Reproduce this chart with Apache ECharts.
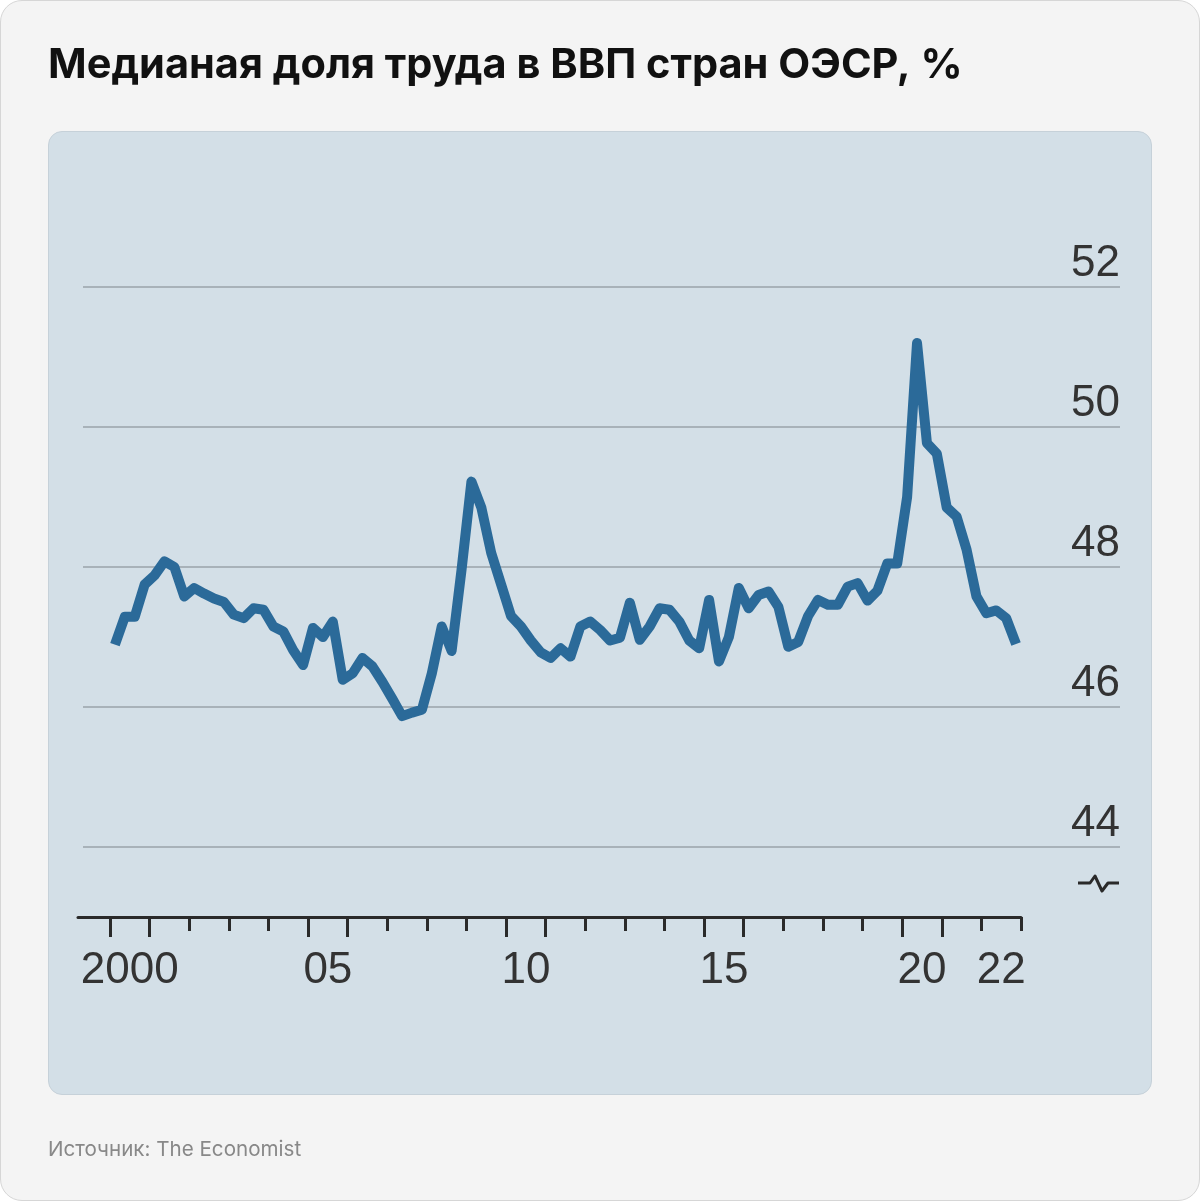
<!DOCTYPE html>
<html>
<head>
<meta charset="utf-8">
<script src="https://cdn.jsdelivr.net/npm/echarts@6/dist/echarts.min.js"></script>
<style>
  html, body { margin: 0; padding: 0; background: #ffffff; }
  #page { position: absolute; left: 0; top: 0; width: 1198px; height: 1199px; background: #f4f4f4; border: 1px solid #d6d6d6; border-radius: 22px; }
  #panel { position: absolute; left: 48px; top: 131px; width: 1102px; height: 962px; background: #d3dfe7; border: 1px solid #c6d1d9; border-radius: 14px; }
  #chart { position: absolute; left: 0; top: 0; width: 1200px; height: 1201px; }
</style>
</head>
<body>
<div id="page"></div>
<div id="panel"></div>
<div id="chart"></div>
<script>
// ---- Data (quarterly, 2000 Q1 .. 2022 Q4), median labour share of GDP, % ----
const startYear = 2000;
const laborShare = [
  46.89, 47.29, 47.29, 47.75,   // 2000
  47.88, 48.08, 48.00, 47.58,   // 2001
  47.70, 47.62, 47.55, 47.50,   // 2002
  47.32, 47.27, 47.41, 47.39,   // 2003
  47.15, 47.08, 46.81, 46.60,   // 2004
  47.13, 47.00, 47.22, 46.39,   // 2005
  46.48, 46.70, 46.58, 46.36,   // 2006
  46.12, 45.87, 45.92, 45.96,   // 2007
  46.48, 47.15, 46.80, 47.96,   // 2008
  49.22, 48.85, 48.20, 47.75,   // 2009
  47.30, 47.15, 46.95, 46.78,   // 2010
  46.70, 46.84, 46.72, 47.15,   // 2011
  47.22, 47.10, 46.95, 46.99,   // 2012
  47.49, 46.96, 47.15, 47.41,   // 2013
  47.39, 47.22, 46.95, 46.84,   // 2014
  47.53, 46.65, 47.00, 47.70,   // 2015
  47.41, 47.60, 47.65, 47.43,   // 2016
  46.86, 46.93, 47.30, 47.53,   // 2017
  47.46, 47.46, 47.72, 47.77,   // 2018
  47.52, 47.66, 48.05, 48.05,   // 2019
  49.00, 51.20, 49.77, 49.62,   // 2020
  48.85, 48.72, 48.25, 47.58,   // 2021
  47.34, 47.38, 47.27, 46.90    // 2022
];
const yTicks = [44, 46, 48, 50, 52];
const yearTicks = [2000,2001,2002,2003,2004,2005,2006,2007,2008,2009,2010,2011,2012,2013,2014,2015,2016,2017,2018,2019,2020,2021,2022,2023];
const majorTicks = [2000, 2001, 2005, 2006, 2010, 2011, 2015, 2016, 2020, 2021];
const xLabelYears = [2000, 2005, 2010, 2015, 2020, 2022];
const xLabelText = { 2000: '2000', 2005: '05', 2010: '10', 2015: '15', 2020: '20', 2022: '22' };

const seriesData = laborShare.map((v, i) => [startYear + (i + 0.5) / 4, v]);

const numFont = '"Liberation Sans Narrow", "Liberation Sans", Arial, sans-serif';
const chart = echarts.init(document.getElementById('chart'), null, { renderer: 'canvas' });

const gridTop = 287;
const pxPerUnit = 70;
const yMaxVal = 52, yGridMin = 42, yAxisMin = 43;
const pxPerYear = (1021 - 110) / 23;
const xMin = 2000 - (110 - 78) / pxPerYear;

chart.setOption({
  backgroundColor: 'transparent',
  animation: false,
  title: {
    text: 'Медианая доля труда в ВВП стран ОЭСР, %',
    left: 43, top: 40,
    textStyle: { fontFamily: 'Inter, "Noto Sans", sans-serif', fontWeight: 700, fontSize: 41.5, color: '#111111' }
  },
  grid: [
    { left: 83, right: 80, top: gridTop, bottom: 1201 - (gridTop + (yMaxVal - yGridMin) * pxPerUnit), containLabel: false },
    { left: 78, right: 1200 - 1021, top: gridTop, bottom: 1201 - (gridTop + (yMaxVal - yAxisMin) * pxPerUnit), containLabel: false }
  ],
  xAxis: [
    { gridIndex: 0, type: 'value', min: 0, max: 1, show: false },
    {
      gridIndex: 1, type: 'value', min: xMin, max: 2023, position: 'bottom', offset: 0,
      axisLine: { show: true, onZero: false, lineStyle: { color: '#2a2a2a', width: 3 } },
      axisTick: { show: true, customValues: yearTicks, length: 14, lineStyle: { color: '#2a2a2a', width: 3 } },
      axisLabel: { show: false },
      splitLine: { show: false }
    },
    {
      gridIndex: 1, type: 'value', min: xMin, max: 2023, position: 'bottom', offset: 0,
      axisLine: { show: false, onZero: false },
      axisTick: { show: true, customValues: majorTicks, length: 20, lineStyle: { color: '#2a2a2a', width: 3 } },
      axisLabel: {
        show: true, customValues: xLabelYears.map(y => y + 0.5),
        formatter: v => xLabelText[Math.round(v - 0.5)] || '',
        margin: 32, fontFamily: numFont, fontSize: 44, color: '#333333'
      },
      splitLine: { show: false }
    }
  ],
  yAxis: [
    {
      gridIndex: 0, type: 'value', min: yGridMin, max: yMaxVal, interval: 2, position: 'right',
      axisLine: { show: false }, axisTick: { show: false },
      splitLine: { show: true, showMinLine: false, lineStyle: { color: '#a8b2b9', width: 2 } },
      axisLabel: {
        inside: true, margin: 0, showMinLabel: false, align: 'right', verticalAlign: 'bottom',
        lineHeight: 47, fontFamily: numFont, fontSize: 44, color: '#333333'
      }
    },
    { gridIndex: 1, type: 'value', min: yAxisMin, max: yMaxVal, show: false }
  ],
  series: [{
    type: 'line', xAxisIndex: 1, yAxisIndex: 1, data: seriesData,
    showSymbol: false, smooth: false,
    lineStyle: { color: '#2b6a99', width: 10, join: 'round', cap: 'butt' },
    z: 5
  }],
  graphic: [
    {
      type: 'polyline', silent: true,
      shape: { points: [[1078, 883], [1090, 883], [1095, 876], [1102, 891], [1108, 883], [1119, 883]] },
      style: { stroke: '#2a2a2a', lineWidth: 3, fill: null, lineJoin: 'round' }
    },
    {
      type: 'text', left: 48, top: 1139,
      style: { text: 'Источник: The Economist', fontFamily: 'Inter, "Noto Sans", sans-serif', fontSize: 20.6, fill: '#888888' }
    }
  ]
});
</script>
</body>
</html>
